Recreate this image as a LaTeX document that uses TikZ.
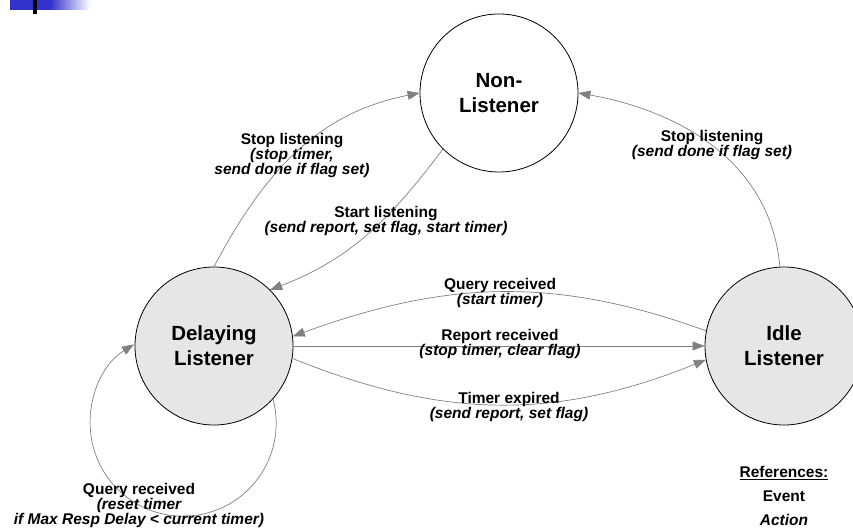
\documentclass[tikz,border=0pt]{standalone}
\usepackage{fontspec}
\setmainfont{Liberation Sans}
\usetikzlibrary{arrows.meta}
\definecolor{barblue}{RGB}{50,50,205}
\definecolor{statefill}{RGB}{230,230,230}
\definecolor{edgegray}{RGB}{128,128,128}
\begin{document}
\begin{tikzpicture}[x=1pt,y=1pt,
  state/.style={circle, draw=black, line width=0.8pt, minimum size=158pt,
    inner sep=0pt, align=center, font=\fontsize{20.5}{25}\selectfont\bfseries},
  conn/.style={draw=edgegray, line width=0.7pt,
    -{Triangle[length=12pt,width=9pt]}},
  lbl/.style={align=center, font=\fontsize{15.5}{15}\selectfont\bfseries},
]
\useasboundingbox (0,0) rectangle (853,528);

% title bar decoration
\fill[barblue] (10,518) rectangle (50,528);
\shade[left color=barblue, right color=white] (50,518) rectangle (90,528);
\fill[black] (33,514) rectangle (37,528);

% states
\node[state, fill=white]     (N) at (499,435) {Non-\\Listener};
\node[state, fill=statefill] (D) at (214,182) {Delaying\\Listener};
\node[state, fill=statefill] (I) at (784,182) {Idle\\Listener};

% transitions
\draw[conn] (D.north) to[out=62, in=191] (N.west);
\draw[conn] (N.-135) to[out=233, in=21] (D.45);
\draw[conn] (I.93) to[out=95, in=-10] (N.east);
\draw[conn] (I.169) to[out=160, in=20] (D.7);
\draw[conn] (D.east) -- (I.west);
\draw[conn] (D.-9) to[out=-22, in=202] (I.190);
\draw[conn] (D.-42) arc[start angle=15, end angle=-238, radius=93pt];

% transition labels
\node[lbl] (l1) at (292,373) {Stop listening\\{\itshape (stop timer,}\\{\itshape send done if flag set)}};
\node[lbl] (l2) at (386,307) {Start listening\\{\itshape (send report, set flag, start timer)}};
\node[lbl] (l3) at (712,383) {Stop listening\\{\itshape (send done if flag set)}};
\node[lbl] (l4) at (500,235) {Query received\\{\itshape (start timer)}};
\node[lbl] (l5) at (500,184) {Report received\\{\itshape (stop timer, clear flag)}};
\node[lbl] (l6) at (509,121) {Timer expired\\{\itshape (send report, set flag)}};
\node[lbl] (l7) at (139,23) {Query received\\{\itshape (reset timer}\\{\itshape if Max Resp Delay < current timer)}};

% legend
\node[align=center, font=\fontsize{15.5}{24}\selectfont\bfseries] (legend) at (784,32)
  {\underline{References:}\\Event\\{\itshape Action}};
\end{tikzpicture}
\end{document}
